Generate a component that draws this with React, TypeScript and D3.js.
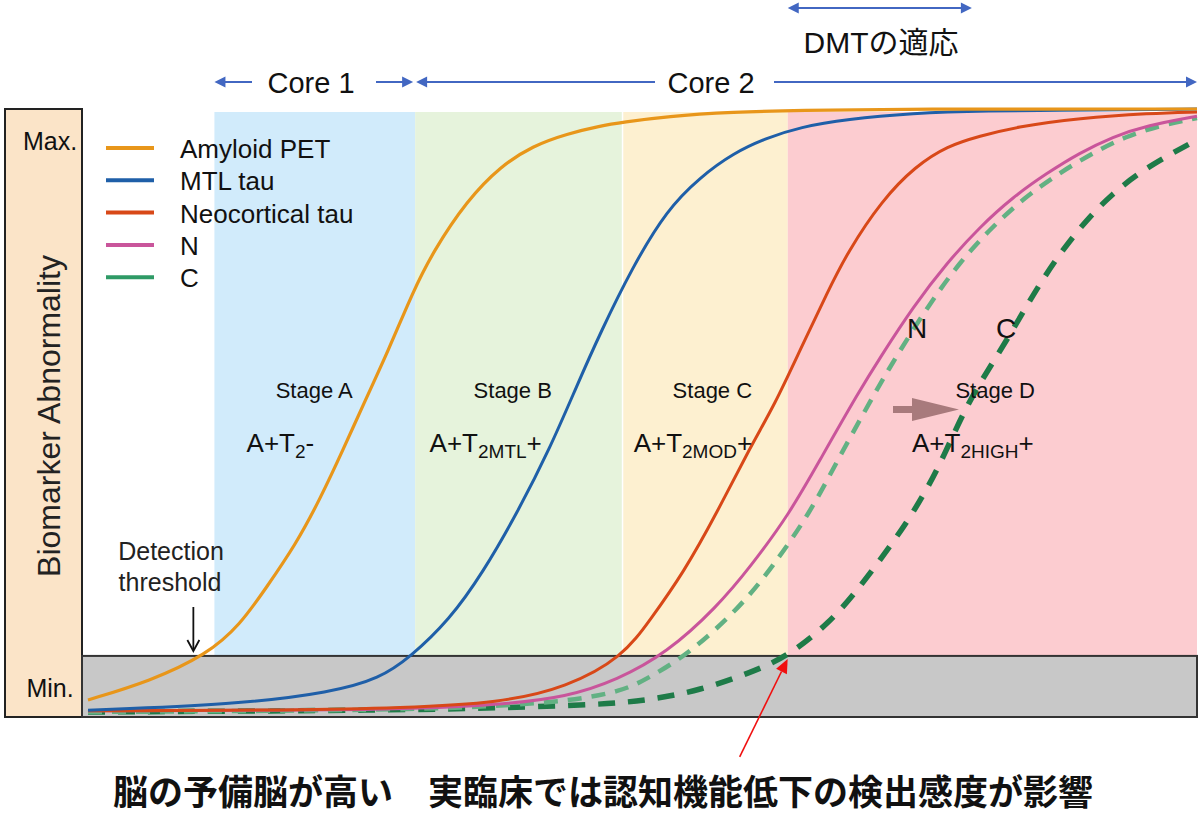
import React from "react";
import * as d3 from "d3";

// ---------- data (x: disease progression 0-100, y: abnormality 0-100) ----------
const amyloidPET: [number, number][] = [
  [0, 2.0], [5.6, 5.1], [10.7, 9.5], [13.7, 14.4], [16.1, 20.7], [18.7, 27.7], [20.9, 35.2],
  [23.2, 44.3], [24.8, 50.9], [27.1, 60.0], [29.3, 69.7], [31.1, 76.3], [34.2, 84.9], [37.2, 90.5],
  [40.1, 93.9], [43.2, 95.9], [46.2, 97.2], [48.2, 97.8], [52.2, 98.8], [58.2, 99.5], [64.2, 99.8],
  [73.2, 100], [100, 100],
];
const mtlTau: [number, number][] = [
  [0, 0.3], [13.1, 1.2], [22.1, 3.3], [26.3, 5.6], [29.0, 9.0], [32.6, 15.3], [35.6, 23.1],
  [38.7, 33.0], [41.7, 43.9], [44.1, 54.2], [46.2, 62.9], [49.1, 73.8], [52.2, 83.3], [55.2, 88.7],
  [58.2, 92.7], [61.2, 95.2], [64.2, 97.0], [68.4, 98.3], [74.4, 99.3], [80.4, 99.7], [91.3, 99.8], [100, 100],
];
const neocorticalTau: [number, number][] = [
  [0, 0.2], [19.1, 0.3], [28.1, 0.7], [37.2, 1.5], [43.2, 4.1], [48.2, 9.1], [50.7, 15.3], [53.7, 23.1],
  [56.7, 33.0], [59.7, 43.9], [61.9, 50.9], [64.2, 60.0], [66.7, 69.7], [68.5, 76.3], [71.6, 84.9],
  [74.6, 90.5], [77.5, 93.9], [80.4, 95.5], [83.6, 97.0], [89.4, 98.5], [95.8, 99.3], [100, 99.5],
];
const nSeries: [number, number][] = [
  [0, 0.2], [28.1, 0.3], [37.2, 1.2], [43.2, 2.5], [47.7, 5.3], [52.2, 9.8], [56.7, 17.4], [59.7, 24.0],
  [63.3, 33.0], [66.0, 41.8], [69.6, 53.4], [71.4, 58.7], [74.4, 67.2], [77.5, 74.6], [80.4, 80.4],
  [83.4, 85.4], [86.5, 89.4], [89.4, 92.7], [92.4, 95.4], [95.5, 97.3], [100, 98.8],
];
const cHighReserve: [number, number][] = [
  [0, 0], [28.1, 0.3], [37.2, 1.0], [43.2, 1.8], [48.2, 3.4], [50.7, 5.8], [54.3, 9.8], [58.8, 17.4],
  [61.7, 24.0], [65.1, 33.0], [67.6, 41.8], [71.1, 53.4], [72.8, 58.7], [75.7, 67.2], [78.6, 74.6],
  [81.5, 80.4], [84.5, 85.4], [87.6, 89.4], [90.6, 92.7], [93.5, 95.4], [96.7, 97.3], [100, 98.5],
];
const cClinical: [number, number][] = [
  [0, 0], [28.1, 0.3], [37.2, 0.7], [46.2, 1.2], [50.7, 2.0], [55.2, 3.6], [59.7, 6.5], [63.0, 9.1],
  [66.9, 14.8], [69.6, 20.7], [72.3, 27.4], [74.4, 33.0], [76.6, 40.1], [78.6, 48.4], [80.4, 54.6],
  [82.9, 61.7], [86.1, 72.1], [89.4, 80.4], [92.4, 86.1], [95.5, 90.4], [100, 94.9],
];

const legendLabels = ["Amyloid PET", "MTL tau", "Neocortical tau", "N", "C"];
const legendColors = ["#e8961a", "#1f5fa8", "#d84818", "#c9559b", "#2e9a66"];

const stageEdges = [11.4, 29.5, 48.2, 63.1, 100];
const stageFills = ["#d1ebfb", "#e6f3dc", "#fdf0d0", "#fcccd0"];
const stageNames = ["Stage A", "Stage B", "Stage C", "Stage D"];
const stageNameX = [20.4, 38.3, 56.3, 81.8];
const stageCodeX = [14.3, 30.8, 49.2, 74.3];
const stageSubs = ["2", "2MTL", "2MOD", "2HIGH"];
const stageSuffix = ["-", "+", "+", "+"];

const detectionThreshold = 9.3;
const dmtRange = [63.1, 79.7];
const core1Range = [11.4, 29.5];
const core2Range = [29.5, 100];

// ---------- layout ----------
const W = 1200, H = 816;
const PLOT = { left: 82, right: 1197, top: 109, bottom: 717, bandTop: 112 };
const xS = d3.scaleLinear().domain([0, 100]).range([88, 1197]);
const yS = d3.scaleLinear().domain([0, 100]).range([712, 109]);
const lineGen = d3.line<[number, number]>().x((d) => xS(d[0])).y((d) => yS(d[1])).curve(d3.curveBasis);

const LATIN = "'Liberation Sans', Arial, Helvetica, sans-serif";
const CJK = "'Noto Sans CJK JP', 'Noto Sans CJK SC', sans-serif";
const ARROW_BLUE = "#4267c2";

function HArrow({ x1, x2, y, left, right }: { x1: number; x2: number; y: number; left?: boolean; right?: boolean }) {
  const L = 11, h = 5.5;
  return (
    <g>
      <line x1={left ? x1 + L - 1 : x1} x2={right ? x2 - L + 1 : x2} y1={y} y2={y} stroke={ARROW_BLUE} strokeWidth={2} />
      {left && <polygon points={`${x1},${y} ${x1 + L},${y - h} ${x1 + L},${y + h}`} fill={ARROW_BLUE} />}
      {right && <polygon points={`${x2},${y} ${x2 - L},${y - h} ${x2 - L},${y + h}`} fill={ARROW_BLUE} />}
    </g>
  );
}

export default function App() {
  const thrY = yS(detectionThreshold);
  const tipX = xS(63.0) + 1, tipY = thrY + 3;
  const tailX = tipX - 48, tailY = tipY + 98;
  const ang = Math.atan2(tipY - tailY, tipX - tailX);
  const ah = 14, aw = 6;
  const bx = tipX - ah * Math.cos(ang), by = tipY - ah * Math.sin(ang);
  const px = -Math.sin(ang) * aw, py = Math.cos(ang) * aw;

  const series = [
    { d: cClinical, color: "#1e7b48", w: 5.5, dash: "17 13" },
    { d: cHighReserve, color: "#62b183", w: 4.5, dash: "14 10" },
    { d: nSeries, color: legendColors[3], w: 3, dash: undefined },
    { d: neocorticalTau, color: legendColors[2], w: 3, dash: undefined },
    { d: mtlTau, color: legendColors[1], w: 3, dash: undefined },
    { d: amyloidPET, color: legendColors[0], w: 3.2, dash: undefined },
  ];

  return (
    <svg width={W} height={H} style={{ position: "absolute", left: 0, top: 0, background: "#fff" }}>
      {/* stage bands */}
      {stageFills.map((f, i) => (
        <rect key={i} x={xS(stageEdges[i])} y={PLOT.bandTop} width={xS(stageEdges[i + 1]) - xS(stageEdges[i])}
          height={thrY - PLOT.bandTop} fill={f} />
      ))}
      <line x1={xS(stageEdges[2])} x2={xS(stageEdges[2])} y1={PLOT.bandTop} y2={thrY} stroke="#fff" strokeWidth={1.5} />

      {/* left label box */}
      <rect x={5} y={PLOT.top} width={PLOT.left - 5} height={PLOT.bottom - PLOT.top} fill="#fbe4c8" stroke="#222" strokeWidth={2} />
      <text x={50} y={150} textAnchor="middle" fontFamily={LATIN} fontSize={25} fill="#111">Max.</text>
      <text x={50} y={697} textAnchor="middle" fontFamily={LATIN} fontSize={25} fill="#111">Min.</text>
      <text transform="translate(60,416) rotate(-90)" textAnchor="middle" fontFamily={LATIN} fontSize={32} fill="#222">
        Biomarker Abnormality
      </text>

      {/* detection threshold box */}
      <rect x={PLOT.left} y={thrY} width={PLOT.right - PLOT.left} height={PLOT.bottom - thrY} fill="#c8c8c8" stroke="#333" strokeWidth={2} />

      {/* curves */}
      {series.map((s, i) => (
        <path key={i} d={lineGen(s.d) || ""} fill="none" stroke={s.color} strokeWidth={s.w}
          strokeDasharray={s.dash} strokeLinecap="butt" />
      ))}

      {/* legend */}
      {legendLabels.map((lab, i) => {
        const y = 148 + i * 32.3;
        return (
          <g key={lab}>
            <line x1={106} x2={154} y1={y} y2={y} stroke={legendColors[i]} strokeWidth={4} />
            <text x={180} y={y + 10} fontFamily={LATIN} fontSize={26} fill="#111">{lab}</text>
          </g>
        );
      })}

      {/* stage labels */}
      {stageNames.map((n, i) => (
        <g key={n}>
          <text x={xS(stageNameX[i])} y={398} textAnchor="middle" fontFamily={LATIN} fontSize={22} fill="#111">{n}</text>
          <text x={xS(stageCodeX[i])} y={452} fontFamily={LATIN} fontSize={26} fill="#111">
            A+T
            <tspan fontSize={19} dy={6}>{stageSubs[i]}</tspan>
            <tspan fontSize={26} dy={-6}>{stageSuffix[i]}</tspan>
          </text>
        </g>
      ))}

      {/* N / C labels */}
      <text x={917} y={338} textAnchor="middle" fontFamily={LATIN} fontSize={28} fill="#111">N</text>
      <text x={1006} y={338} textAnchor="middle" fontFamily={LATIN} fontSize={28} fill="#111">C</text>

      {/* brown shift arrow */}
      <g fill="#a87a7c">
        <rect x={893} y={406} width={24} height={7} />
        <polygon points={`912,398 959,409.5 912,421`} />
      </g>

      {/* detection threshold */}
      <text x={171} y={560} textAnchor="middle" fontFamily={LATIN} fontSize={25} fill="#222">Detection</text>
      <text x={170} y={591} textAnchor="middle" fontFamily={LATIN} fontSize={25} fill="#222">threshold</text>
      <line x1={xS(9.5)} x2={xS(9.5)} y1={607} y2={650} stroke="#111" strokeWidth={1.8} />
      <polyline points={`${xS(9.5) - 6},${640} ${xS(9.5)},${651} ${xS(9.5) + 6},${640}`} fill="none" stroke="#111" strokeWidth={1.8} />

      {/* core arrows */}
      <HArrow x1={xS(core1Range[0])} x2={252} y={82} left />
      <HArrow x1={376} x2={xS(core1Range[1]) - 2} y={82} right />
      <text x={311} y={93} textAnchor="middle" fontFamily={LATIN} fontSize={29} fill="#111">Core 1</text>
      <HArrow x1={xS(core2Range[0]) + 1} x2={655} y={82} left />
      <HArrow x1={774} x2={xS(core2Range[1])} y={82} right />
      <text x={711} y={93} textAnchor="middle" fontFamily={LATIN} fontSize={29} fill="#111">Core 2</text>

      {/* DMT */}
      <HArrow x1={xS(dmtRange[0])} x2={xS(dmtRange[1])} y={8} left right />
      <text x={881} y={53} textAnchor="middle" fontFamily={`${LATIN}`} fontSize={30} fill="#111">
        DMT<tspan fontFamily={CJK}>の適応</tspan>
      </text>

      {/* red annotation arrow */}
      <line x1={tailX} y1={tailY} x2={bx} y2={by} stroke="#f01010" strokeWidth={1.6} />
      <polygon points={`${tipX},${tipY} ${bx + px},${by + py} ${bx - px},${by - py}`} fill="#f01010" />

      {/* bottom caption */}
      <text x={113} y={805} fontFamily={CJK} fontWeight="bold" fontSize={35} fill="#111">
        脳の予備脳が高い　実臨床では認知機能低下の検出感度が影響
      </text>
    </svg>
  );
}
